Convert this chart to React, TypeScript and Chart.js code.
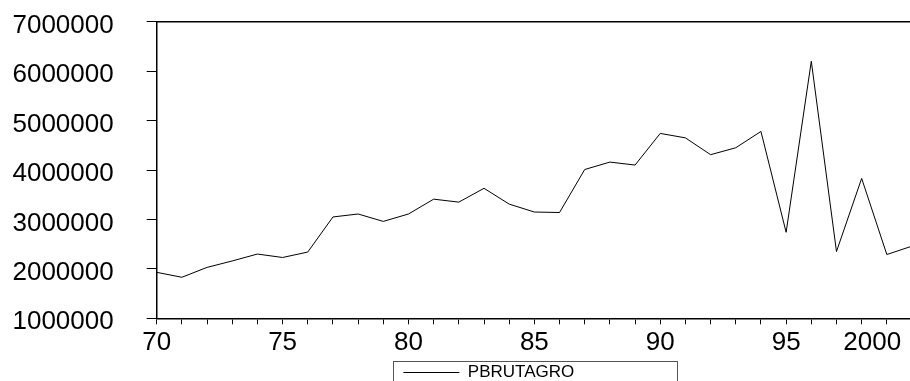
import React, { useEffect, useRef } from "react";
import { Chart, registerables } from "chart.js";

Chart.register(...registerables);

// ---- data ----
const years = [
  1970, 1971, 1972, 1973, 1974, 1975, 1976, 1977, 1978, 1979,
  1980, 1981, 1982, 1983, 1984, 1985, 1986, 1987, 1988, 1989,
  1990, 1991, 1992, 1993, 1994, 1995, 1996, 1997, 1998, 1999, 2000,
];
const pbrutagro = [
  1930000, 1830000, 2030000, 2160000, 2300000, 2230000, 2340000, 3050000, 3110000, 2960000,
  3110000, 3410000, 3350000, 3630000, 3310000, 3150000, 3140000, 4010000, 4160000, 4100000,
  4740000, 4650000, 4310000, 4450000, 4780000, 2740000, 6200000, 2350000, 3830000, 2290000, 2460000,
];
const seriesName = "PBRUTAGRO";
const yTickValues = [1000000, 2000000, 3000000, 4000000, 5000000, 6000000, 7000000];
const xLabelTexts = ["70", "75", "80", "85", "90", "95", "2000"];
const xLabelValues = [1970, 1975, 1980, 1985, 1990, 1995, 1998.42];
const xMin = 1970;
const xMax = 1999.92;

const FONT = "'Liberation Sans', Arial, Helvetica, sans-serif";

export default function App() {
  const ref = useRef<HTMLCanvasElement | null>(null);

  useEffect(() => {
    if (!ref.current) return;

    const frame = {
      id: "frame",
      afterLayout(chart: any) {
        const lg = chart.legend;
        if (!lg) return;
        const ca = chart.chartArea;
        const c = (ca.left + ca.right) / 2 + 2;
        lg.left = c - 142;
        lg.right = c + 142;
        lg.width = 284;
      },
      afterDraw(chart: any) {
        const ctx = chart.ctx;
        const ca = chart.chartArea;
        ctx.save();
        // top frame line
        ctx.strokeStyle = "#000";
        ctx.lineWidth = 1.5;
        ctx.beginPath();
        ctx.moveTo(ca.left, ca.top);
        ctx.lineTo(ca.right, ca.top);
        ctx.stroke();
        // legend frame
        const lg = chart.legend;
        if (lg) {
          ctx.strokeStyle = "#555";
          ctx.lineWidth = 1;
          ctx.strokeRect(Math.round(lg.left) + 0.5, Math.round(lg.top + 7) + 0.5, 284, 60);
        }
        ctx.restore();
      },
    };

    const chart = new Chart(ref.current, {
      type: "line",
      data: {
        datasets: [
          {
            label: seriesName,
            data: years.map((y, i) => ({ x: y, y: pbrutagro[i] })),
            borderColor: "#000",
            backgroundColor: "#000",
            borderWidth: 1,
            pointRadius: 0,
            tension: 0,
            fill: false,
          },
        ],
      },
      options: {
        animation: false,
        responsive: false,
        maintainAspectRatio: false,
        layout: { padding: { top: 21.7, left: 0, right: 0, bottom: 0 } },
        plugins: {
          tooltip: { enabled: false },
          legend: {
            display: true,
            position: "bottom",
            fullSize: false,
            align: "start",
            labels: {
              usePointStyle: true,
              pointStyle: "line",
              pointStyleWidth: 56,
              color: "#000",
              padding: 10,
              font: { family: FONT, size: 17 },
            },
          },
        },
        scales: {
          x: {
            type: "linear",
            min: xMin,
            max: xMax,
            afterBuildTicks(scale: any) {
              const t: any[] = [];
              for (let v = 1970; v <= 1999; v++) t.push({ value: v });
              t.push({ value: xLabelValues[xLabelValues.length - 1] });
              t.sort((a, b) => a.value - b.value);
              scale.ticks = t;
            },
            afterFit(scale: any) {
              scale.height = 35.7;
              scale.paddingRight = 0;
            },
            ticks: {
              autoSkip: false,
              maxRotation: 0,
              minRotation: 0,
              padding: 3,
              color: "#000",
              font: { family: FONT, size: 26 },
              callback: (v: any) => {
                const i = xLabelValues.indexOf(Number(v));
                return i >= 0 ? xLabelTexts[i] : "";
              },
            },
            grid: {
              display: true,
              drawOnChartArea: false,
              drawTicks: true,
              tickLength: 6,
              tickColor: (ctx: any) =>
                ctx.tick && ctx.tick.value === xLabelValues[xLabelValues.length - 1]
                  ? "rgba(0,0,0,0)"
                  : "#000",
            },
            border: { display: true, color: "#000", width: 1.5 },
          },
          y: {
            type: "linear",
            min: yTickValues[0],
            max: yTickValues[yTickValues.length - 1],
            afterBuildTicks(scale: any) {
              scale.ticks = yTickValues.map((v) => ({ value: v }));
            },
            afterFit(scale: any) {
              scale.width = 156.7;
              scale.paddingTop = 0;
              scale.paddingBottom = 0;
            },
            ticks: {
              padding: 33,
              labelOffset: 4,
              color: "#000",
              font: { family: FONT, size: 26 },
              callback: (v: any) => String(v),
            },
            grid: {
              display: true,
              drawOnChartArea: false,
              drawTicks: true,
              tickLength: 10,
              tickColor: "#000",
            },
            border: { display: true, color: "#000", width: 1.5 },
          },
        },
      },
      plugins: [frame],
    } as any);

    return () => chart.destroy();
  }, []);

  return (
    <div
      style={{
        position: "fixed",
        left: 0,
        top: 0,
        width: 910,
        height: 381,
        overflow: "hidden",
        background: "#fff",
      }}
    >
      <canvas ref={ref} width={910} height={391} style={{ display: "block" }} />
    </div>
  );
}
